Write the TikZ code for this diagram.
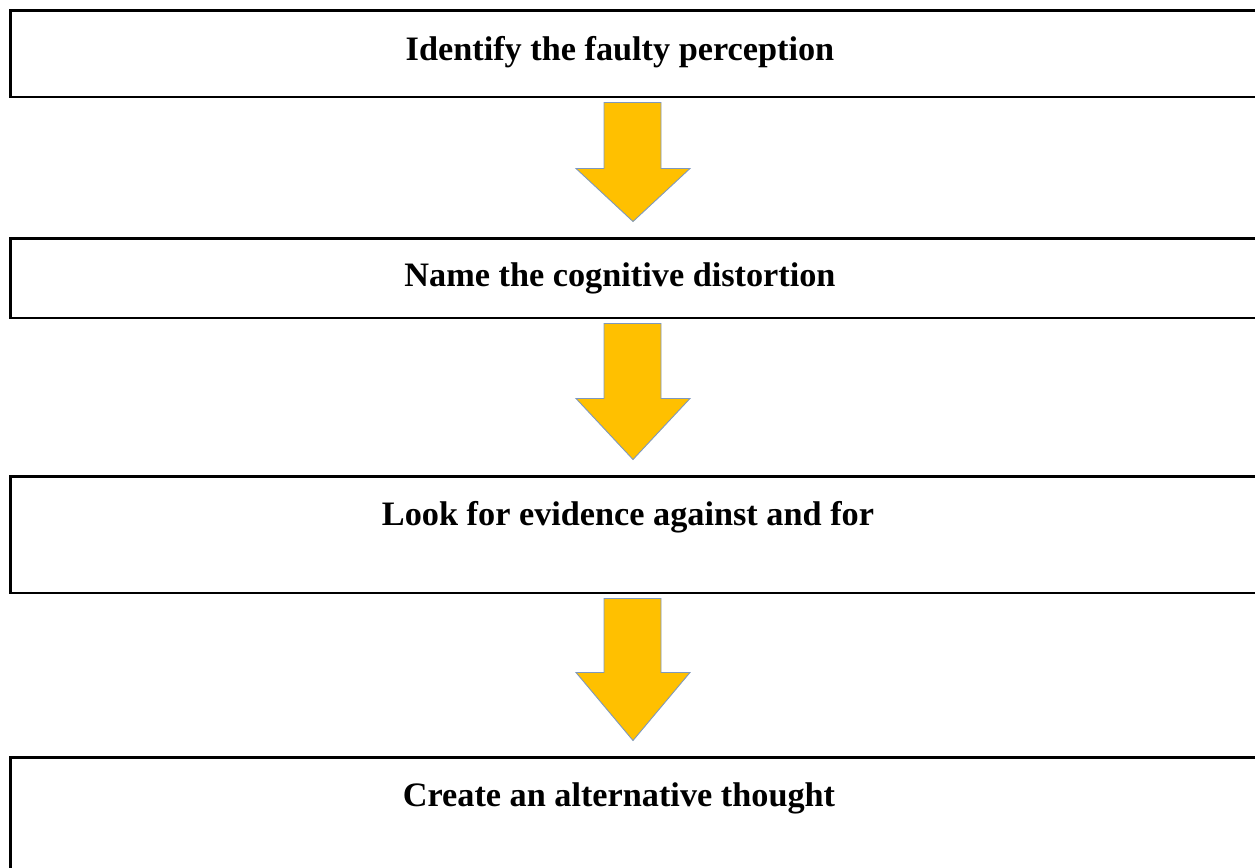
\documentclass[tikz,border=0pt]{standalone}
\usepackage{fontspec}
\setmainfont{Liberation Serif}
\usetikzlibrary{calc}

\tikzset{
  stepbox/.style={draw=black, line width=1.7pt, minimum width=25.1cm, inner sep=0pt},
  steptext/.style={font=\fontsize{19.5}{23}\selectfont\bfseries, inner sep=0pt},
  blockarrow/.style={fill={rgb,255:red,255;green,192;blue,0},
    draw={rgb,255:red,125;green,152;blue,190}, line width=0.5pt}
}

\begin{document}
\begin{tikzpicture}[x=0.02cm, y=-0.02cm]
  \useasboundingbox (0,0) rectangle (1255,867);
  \clip (0,0) rectangle (1255,867);

  % boxes
  \node[stepbox, minimum height=1.74cm] (box1) at (637.5,53.5) {};
  \node[stepbox, minimum height=1.60cm] (box2) at (637.5,278) {};
  \node[stepbox, minimum height=2.34cm] (box3) at (637.5,534.5) {};
  \node[stepbox, minimum height=3.00cm] (box4) at (637.5,832) {};

  % labels
  \node[steptext] (text1) at (620,52)  {Identify the faulty perception};
  \node[steptext] (text2) at (620,278) {Name the cognitive distortion};
  \node[steptext] (text3) at (628,517) {Look for evidence against and for};
  \node[steptext] (text4) at (619,798) {Create an alternative thought};

  % arrows between the boxes
  \coordinate (ax) at (633,0);
  \foreach \a/\b/\s in {box1/box2/66, box2/box3/75, box3/box4/74} {
    \path ($(\a.south -| ax)+(0,4)$) coordinate (top)
          ($(\b.north -| ax)+(0,-15)$) coordinate (tip)
          ($(top)+(0,\s)$) coordinate (mid);
    \filldraw[blockarrow] ($(top)+(-29,0)$) -- ($(top)+(28,0)$) -- ($(mid)+(28,0)$)
      -- ($(mid)+(57,0)$) -- (tip) -- ($(mid)+(-57,0)$) -- ($(mid)+(-29,0)$) -- cycle;
  }
\end{tikzpicture}
\end{document}
